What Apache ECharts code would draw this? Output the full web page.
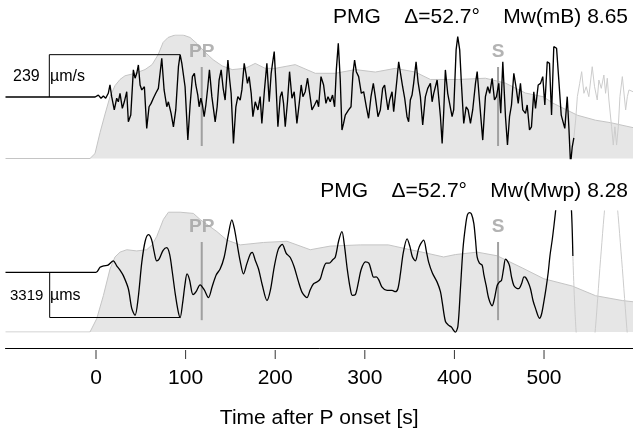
<!DOCTYPE html>
<html>
<head>
<meta charset="utf-8">
<script src="https://cdn.jsdelivr.net/npm/echarts@6/dist/echarts.min.js"></script>
<style>
  html, body { margin: 0; padding: 0; background: #fff; }
  #chart { width: 633px; height: 430px; }
</style>
</head>
<body>
<div id="chart"></div>
<script>
// time after P onset [s], amplitude
var topTrace = [
  [-101,0],[-1,0],[2.6,11],[5.6,-7],[8.2,6],[10.8,-7],[13.7,21],[15.6,68],[17.5,2],[20.4,-73],[23.1,-7],[24.9,-27],[26.8,21],[29.4,-64],[31.6,-27],[34.3,30],[36.1,-140],[38.8,-102],[41.7,153],[43.6,106],[45.5,134],[47.3,181],[49.2,68],[51.1,40],[54.0,58],[56.6,-177],[59.2,-55],[61.5,-36],[64.0,-7],[66.7,21],[69.6,49],[73.4,219],[76.0,40],[79.0,-55],[80.8,-27],[83.8,-92],[86.4,-168],[89.0,-73],[92.0,171],[93.9,239],[95.8,190],[98.0,181],[99.4,58],[102.5,-243],[105.0,-45],[107.6,115],[109.8,134],[111.4,68],[113.6,11],[115.1,-55],[117.0,-7],[118.8,-45],[120.7,-111],[122.6,-45],[124.8,58],[126.6,153],[129.3,2],[133.0,-140],[135.2,-55],[137.4,96],[139.7,153],[141.9,49],[144.1,-17],[147.2,209],[149.2,96],[150.8,21],[153.4,-262],[156.1,-55],[158.3,2],[160.9,-17],[162.8,40],[165.4,190],[167.3,134],[169.0,77],[170.9,115],[173.2,21],[175.1,-111],[177.7,-27],[180.7,-73],[183.2,2],[185.1,-149],[188.0,40],[190.7,190],[193.3,-27],[195.5,134],[197.0,190],[198.9,256],[200.8,77],[203.0,-168],[205.6,2],[207.5,30],[209.3,-36],[211.2,-168],[213.7,-27],[216.0,143],[218.7,-7],[221.2,30],[224.2,-149],[226.8,-36],[229.0,68],[230.9,2],[233.5,30],[236.1,106],[238.0,96],[241.0,-73],[243.9,-45],[246.6,-17],[248.4,-55],[251.1,115],[254.0,68],[256.6,-36],[258.9,2],[261.4,-27],[264.0,11],[266.3,-55],[268.2,153],[270.4,303],[272.6,96],[274.5,-186],[276.3,-149],[278.2,-102],[281.9,-73],[284.6,-55],[286.8,134],[288.6,209],[290.5,143],[293.1,115],[296.1,21],[298.7,30],[301.7,-55],[304.2,-120],[306.9,2],[309.5,77],[311.7,2],[314.7,-111],[317.3,-73],[319.9,49],[322.1,68],[324.0,-7],[325.9,-73],[327.7,-17],[330.4,30],[332.2,-83],[334.1,11],[336.0,106],[337.8,199],[340.4,115],[342.2,58],[344.5,-7],[347.1,-111],[348.9,-140],[350.8,-17],[352.7,11],[354.5,77],[357.2,199],[359.4,86],[362.0,2],[364.6,-158],[367.6,2],[370.2,49],[373.2,77],[375.1,-27],[376.9,21],[380.7,96],[384.4,-111],[386.3,-262],[388.0,-92],[389.9,153],[392.5,21],[394.4,30],[397.4,-111],[399.2,-73],[401.9,266],[403.7,341],[405.9,266],[407.8,77],[410.4,-149],[413.1,-55],[415.3,-73],[417.9,-149],[420.4,-73],[423.5,77],[425.4,143],[427.9,-17],[431.6,-243],[434.6,2],[437.2,58],[439.4,21],[442.1,106],[444.7,-17],[446.9,2],[449.5,77],[451.7,-92],[454.0,199],[457.0,-111],[459.2,-271],[461.5,-111],[463.7,-45],[466.3,134],[469.0,49],[471.2,-36],[473.7,77],[476.3,-73],[479.3,-92],[481.2,-45],[483.8,-186],[486.0,-168],[488.6,30],[490.5,-64],[493.5,68],[496.1,77],[498.6,115],[500.9,-45],[503.6,199],[506.1,190],[508.4,-102],[510.9,284],[514.0,275],[516.5,96],[519.2,-102],[521.0,-92],[523.2,-177],[525.9,2],[527.7,-168],[529.6,-380],[531.5,-281],[533.3,-230]
];
var topTail = [
  [533.3,-230],[535.3,-130],[537.2,2],[539.8,77],[542.0,143],[544.5,21],[547.1,58],[550.0,2],[553.8,171],[556.4,58],[559.4,-17],[561.2,96],[563.9,49],[566.8,124],[568.7,21],[570.6,106],[572.4,-17],[575.4,-168],[577.3,-271],[579.1,-168],[581.0,-271],[582.9,-168],[584.7,2],[587.4,115],[589.2,124],[591.1,-73],[593.0,2],[594.8,40],[596.7,51],[599.3,30]
];
var topEnv = [
  [-101,0],[-6.7,0],[-1.1,0.04],[4.5,0.21],[10.1,0.36],[15.6,0.50],[21.2,0.59],[26.8,0.64],[32.4,0.67],[43.6,0.69],[54.7,0.72],[62.6,0.76],[69.3,0.84],[74.9,0.94],[80.4,0.98],[88.3,1.0],[97.2,1.0],[105.0,0.98],[112.8,0.93],[121.8,0.86],[130.7,0.80],[140.8,0.75],[152.0,0.72],[166.5,0.73],[177.7,0.77],[188.8,0.73],[200.0,0.73],[222.3,0.76],[244.7,0.69],[267.0,0.69],[289.4,0.72],[311.7,0.70],[334.1,0.73],[356.4,0.70],[373.2,0.64],[404.5,0.64],[434.6,0.65],[457.0,0.61],[479.3,0.53],[499.4,0.50],[509.5,0.45],[537.4,0.35],[557.5,0.31],[574.3,0.29],[599.3,0.25]
];
var botTrace = [
  [-101,0],[0,0],[4.5,361],[8.9,477],[13.4,527],[19.3,838],[23.1,477],[26.8,166],[30.5,-245],[36.1,-1206],[39.9,-2650],[43.6,-3155],[47.0,-1928],[51.1,722],[54.8,2260],[58.5,2765],[62.0,2404],[64.8,1538],[67.8,838],[70.4,960],[74.9,1610],[79.0,1805],[82.2,1321],[85.0,94],[88.4,-1567],[91.7,-2866],[93.9,-3319],[96.6,-2289],[99.4,-845],[101.6,-123],[104.4,-556],[108.3,-1639],[111.7,-1422],[116.2,-917],[120.7,-1278],[125.5,-1856],[129.6,-1061],[134.1,-195],[138.5,238],[143.0,1105],[147.5,2693],[151.6,3848],[154.2,3271],[157.2,2188],[160.9,816],[164.6,-123],[168.2,599],[172.1,1321],[174.3,1466],[177.7,888],[181.4,238],[185.5,-917],[190.8,-2072],[194.5,-1350],[198.9,383],[203.4,1682],[207.8,2043],[212.3,1393],[216.8,1083],[221.2,383],[225.7,-628],[230.2,-1495],[235.4,-1856],[239.1,-1278],[242.8,-845],[246.9,-700],[250.3,-484],[253.6,238],[257.0,671],[260.3,671],[263.7,888],[267.0,1105],[270.9,2332],[274.5,2982],[277.1,2043],[280.4,238],[283.8,-1206],[286.0,-1689],[289.4,-1639],[292.7,-773],[296.1,238],[300.6,765],[304.5,671],[307.3,94],[309.8,-361],[312.8,-339],[315.6,-556],[319.2,-1083],[324.8,-1328],[330.4,-1328],[334.1,-1422],[336.9,-1206],[339.7,-123],[343.0,1466],[347.2,2455],[350.3,1899],[353.1,1141],[356.4,838],[359.8,1682],[362.0,2043],[365.7,2354],[368.7,1538],[371.3,722],[375.4,-51],[380.7,-722],[384.4,-1422],[386.6,-2289],[390.0,-3610],[393.3,-3877],[396.6,-4022],[398.9,-4238],[401.1,-4400],[403.9,-3949],[406.7,-1206],[409.5,1682],[412.3,3365],[414.5,4209],[416.8,4380],[419.0,4281],[421.6,3610],[423.5,2404],[425.4,1105],[427.9,671],[430.9,527],[432.9,-195],[435.4,-967],[438.3,-1928],[442.1,-2455],[444.7,-1928],[447.7,-967],[450.3,-700],[452.5,-606],[454.8,238],[457.0,960],[459.2,816],[461.5,477],[463.7,-339],[466.3,-967],[469.3,-1170],[471.8,-1206],[474.9,-845],[477.7,-339],[479.3,-361],[482.1,-700],[484.9,-1206],[487.7,-2072],[490.5,-2650],[495.0,-3372],[497.2,-3083],[499.8,-2166],[502.2,-1206],[504.7,0],[506.7,1249],[509.2,2404],[511.2,3487],[512.8,4426],[516.2,6375],[521.8,8180],[526.2,7458],[528.5,6014],[530.7,4447],[532.2,1199]
];
var botTail = [
  [532.2,1199],[536.3,-4816],[546.4,-10600],[556.4,-4816],[563.1,960],[569.8,6014],[574.9,7458],[579.9,6014],[586.6,960],[593.3,-4816],[599.3,-9000]
];
var botEnv = [
  [-101,0],[-6.7,0],[0.8,0.11],[8.2,0.30],[15.6,0.52],[21.2,0.62],[26.8,0.66],[34.3,0.68],[45.5,0.67],[56.6,0.68],[62.6,0.72],[67.8,0.79],[75.2,0.93],[80.8,0.99],[93.9,0.99],[108.7,0.98],[116.2,0.93],[123.7,0.89],[134.9,0.83],[146.0,0.76],[160.9,0.72],[187.0,0.74],[213.1,0.75],[239.1,0.68],[261.4,0.71],[295.0,0.72],[326.3,0.72],[350.8,0.68],[363.9,0.66],[388.0,0.62],[401.1,0.64],[425.4,0.66],[447.7,0.63],[475.6,0.53],[499.8,0.44],[531.5,0.38],[557.5,0.30],[587.4,0.26],[599.3,0.25]
];
// scale bars: [time, amplitude]
var topBar = [[-52.1,0],[-52.1,239],[93.9,239]];
var botBar = [[-51.7,0],[-51.7,-3319],[93.9,-3319]];
// phase picks
var phaseNames = ['PP', 'S'];
var phaseTimes = [118, 448.7];
var topPhaseSpan = [170, -277];
var botPhaseSpan = [2224, -3516];
var xTicks = [0, 100, 200, 300, 400, 500];

var FONT = 'Liberation Sans, Arial, Helvetica, sans-serif';
var chart = echarts.init(document.getElementById('chart'));

function lineSeries(data, xi, yi, color, width, z, smooth) {
  return {
    type: 'line', xAxisIndex: xi, yAxisIndex: yi, data: data,
    symbol: 'none', smooth: smooth || false, z: z, silent: true,
    lineStyle: { color: color, width: width }
  };
}
function envSeries(data, xi, yi) {
  var s = lineSeries(data, xi, yi, '#c4c4c4', 1, 1);
  s.areaStyle = { color: '#e6e6e6', opacity: 1 };
  return s;
}

var series = [
  envSeries(topEnv, 0, 1),
  envSeries(botEnv, 1, 3),
  lineSeries(topTail, 0, 0, '#cccccc', 1, 3),
  lineSeries(topTrace, 0, 0, '#000', 1.35, 4),
  lineSeries(botTail, 1, 2, '#cccccc', 1, 3, 0.3),
  lineSeries(botTrace, 1, 2, '#000', 1.3, 4, 0.3),
  lineSeries(topBar, 0, 0, '#000', 1, 4),
  lineSeries(botBar, 1, 2, '#000', 1, 4),
  // axis ticks, placed by the time scale of the tick strip
  {
    type: 'scatter', xAxisIndex: 2, yAxisIndex: 4, silent: true,
    symbol: 'rect', symbolSize: [1, 9], itemStyle: { color: '#000' },
    data: xTicks.map(function (v) { return [v, 0.5]; })
  }
];

phaseTimes.forEach(function (t, i) {
  [[0, 0, topPhaseSpan], [1, 2, botPhaseSpan]].forEach(function (p) {
    series.push(lineSeries([[t, p[2][0]], [t, p[2][1]]], p[0], p[1], '#a0a0a0', 2, 2));
    series.push({
      type: 'scatter', xAxisIndex: p[0], yAxisIndex: p[1], silent: true, z: 5,
      symbolSize: 1, itemStyle: { color: 'rgba(0,0,0,0)' },
      data: [[t, p[2][0]]],
      label: {
        show: true, position: 'top', distance: 5, formatter: phaseNames[i],
        color: '#a0a0a0', fontWeight: 'bold', fontSize: 19, fontFamily: FONT
      }
    });
  });
});

var option = {
  animation: false,
  backgroundColor: '#fff',
  grid: [
    { left: 5.5, width: 627.5, top: 35, height: 123.5 },
    { left: 5.5, width: 627.5, top: 211, height: 123 },
    { left: 5.5, width: 627.5, top: 350, height: 9 }
  ],
  xAxis: [
    { gridIndex: 0, type: 'value', min: -101, max: 599.3, show: false },
    {
      gridIndex: 1, type: 'value', min: -101, max: 599.3, position: 'bottom', offset: 16,
      axisLine: { show: true, onZero: false, lineStyle: { color: '#000', width: 1 } },
      axisTick: { show: false },
      axisLabel: { customValues: xTicks, fontSize: 21, color: '#000', margin: 20, fontFamily: FONT },
      splitLine: { show: false },
      name: 'Time after P onset [s]', nameLocation: 'middle', nameGap: 60,
      nameTextStyle: { fontSize: 21, color: '#000', fontFamily: FONT }
    },
    { gridIndex: 2, type: 'value', min: -101, max: 599.3, show: false }
  ],
  yAxis: [
    { gridIndex: 0, type: 'value', min: -347, max: 350, show: false },
    { gridIndex: 0, type: 'value', min: 0, max: 1, show: false },
    { gridIndex: 1, type: 'value', min: -4383, max: 4498, show: false },
    { gridIndex: 1, type: 'value', min: 0, max: 1, show: false },
    { gridIndex: 2, type: 'value', min: 0, max: 1, show: false }
  ],
  graphic: [
    { type: 'text', right: 5, top: 7, style: { text: 'PMG    \u0394=52.7\u00b0    Mw(mB) 8.65', font: '21px ' + FONT, fill: '#000' } },
    { type: 'text', right: 5, top: 181, style: { text: 'PMG    \u0394=52.7\u00b0    Mw(Mwp) 8.28', font: '21px ' + FONT, fill: '#000' } },
    { type: 'text', left: 13, top: 69, style: { text: '239', font: '16px ' + FONT, fill: '#000' } },
    { type: 'text', left: 50, top: 69, style: { text: '\u00b5m/s', font: '16px ' + FONT, fill: '#000' } },
    { type: 'text', left: 10, top: 288, style: { text: '3319', font: '15px ' + FONT, fill: '#000' } },
    { type: 'text', left: 50, top: 288, style: { text: '\u00b5ms', font: '16px ' + FONT, fill: '#000' } }
  ],
  series: series
};
chart.setOption(option);
</script>
</body>
</html>
